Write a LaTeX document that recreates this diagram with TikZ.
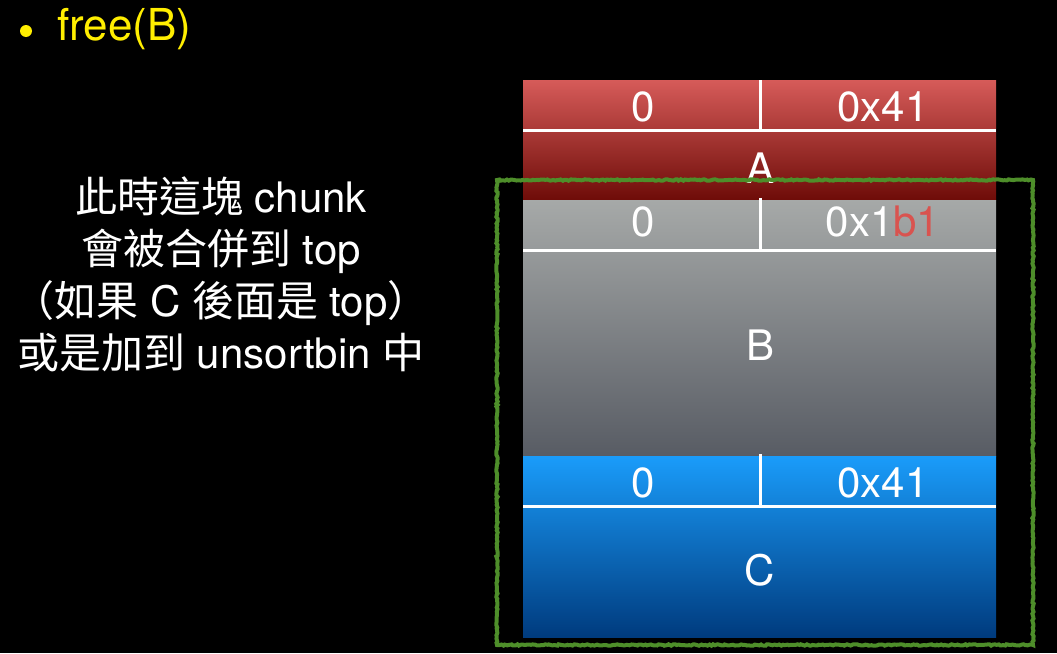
\documentclass[tikz,border=0pt]{standalone}
\usepackage{fontspec}
\setmainfont{TeX Gyre Heros}
\newfontfamily\cjk{Noto Sans CJK TC}
\usetikzlibrary{decorations.pathmorphing}
\definecolor{redtop}{HTML}{D65B59}
\definecolor{redbot}{HTML}{6E0C08}
\definecolor{graytop}{HTML}{A6A9A8}
\definecolor{graybot}{HTML}{585C64}
\definecolor{bluetop}{HTML}{1A9CFA}
\definecolor{bluebot}{HTML}{003B7E}
\definecolor{rough}{HTML}{4E8E2A}
\definecolor{hexred}{HTML}{D9534F}
\definecolor{bullet}{HTML}{FFEE00}
\tikzset{
  cell/.style={text=white, font=\fontsize{42}{48}\selectfont, inner sep=0pt},
  sep/.style={white, line width=3pt},
  note/.style={text=white, align=center, font=\fontsize{42}{52}\selectfont, inner sep=0pt}
}
\begin{document}
\begin{tikzpicture}[x=1pt,y=-1pt]
\fill[black] (0,0) rectangle (1057,653);
\useasboundingbox (0,0) rectangle (1057,653);
% blocks
\shade[top color=redtop, bottom color=redbot] (523,80) rectangle (996,200);
\shade[top color=graytop, bottom color=graybot] (523,200) rectangle (996,456);
\shade[top color=bluetop, bottom color=bluebot] (523,456) rectangle (996,637);
% separators
\coordinate (a1) at (523,130); \coordinate (a2) at (996,130);
\coordinate (b1) at (523,250); \coordinate (b2) at (996,250);
\coordinate (c1) at (523,506); \coordinate (c2) at (996,506);
\draw[sep] (a1) -- (a2);
\draw[sep] (b1) -- (b2);
\draw[sep] (c1) -- (c2);
\coordinate (va1) at (760,80); \coordinate (va2) at (760,131);
\coordinate (vb1) at (760,198); \coordinate (vb2) at (760,251);
\coordinate (vc1) at (760,454); \coordinate (vc2) at (760,507);
\draw[sep] (va1) -- (va2);
\draw[sep] (vb1) -- (vb2);
\draw[sep] (vc1) -- (vc2);
% labels
\node[cell] (a0) at (643,107) {0};
\node[cell] (ah) at (883,107) {0x41};
\node[cell] (bz) at (643,222) {0};
\node[cell] (bh) at (883,222) {0x1\textcolor{hexred}{b1}};
\node[cell] (cz) at (643,483) {0};
\node[cell] (ch) at (883,483) {0x41};
\node[cell] (A) at (760,168) {A};
\node[cell] (B) at (760,345) {B};
\node[cell] (C) at (760,570) {C};
% rough green frame
\draw[rough, line width=4pt, decorate, decoration={random steps, segment length=2pt, amplitude=0.7pt}]
  (497,180) -- (1033,180) -- (1033,645) -- (497,645) -- cycle;
% title
\node[circle, fill=bullet, minimum size=12pt, inner sep=0pt] (dot) at (26,31) {};
\node[text=bullet, font=\fontsize{44}{50}\selectfont, anchor=west, inner sep=0pt] (title) at (57,29) {free(B)};
% note
\node[note] (note) at (221,274) {{\cjk 此時這塊} chunk\\{\cjk 會被合併到} top\\{\cjk （如果} C {\cjk 後面是} top{\cjk ）}\\{\cjk 或是加到} unsortbin {\cjk 中}};
\end{tikzpicture}
\end{document}
